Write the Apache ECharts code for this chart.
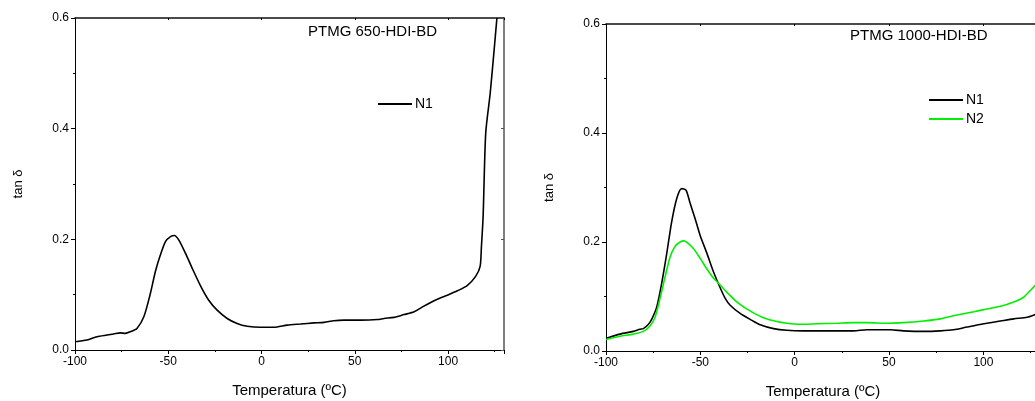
<!DOCTYPE html>
<html>
<head>
<meta charset="utf-8">
<script src="https://cdn.jsdelivr.net/npm/echarts@6/dist/echarts.min.js"></script>
<style>
html,body{margin:0;padding:0;background:#fff;}
#c{width:1035px;height:401px;}
</style>
</head>
<body>
<div id="c"></div>
<script>
// ---- Data ----
const xTicks = [-100, -50, 0, 50, 100];
const yTicks = [0.0, 0.2, 0.4, 0.6];

const leftTitle = 'PTMG 650-HDI-BD';
const rightTitle = 'PTMG 1000-HDI-BD';

const leftTemp = [-100,-93.6,-88.2,-82.8,-79.2,-75.7,-73,-70.3,-66.8,-63.1,-59.6,-56.9,-54.2,-51.5,-48.8,-46.7,-44.4,-40.8,-37.2,-32.7,-28.3,-23.8,-18.4,-13.1,-7.7,-0.5,6.6,13.8,20.9,28.1,33.5,38.8,44.2,53.1,62.1,65.7,71,76.4,81.8,86.3,90.7,95.2,99.6,105,110.4,114.8,117.2,117.9,118.8,120.2,122.6,124.7,126.2];
const leftN1 = [0.015,0.018,0.024,0.027,0.029,0.031,0.030,0.033,0.039,0.060,0.102,0.142,0.172,0.196,0.205,0.207,0.199,0.175,0.148,0.116,0.090,0.072,0.057,0.048,0.043,0.041,0.041,0.045,0.047,0.049,0.050,0.053,0.054,0.054,0.055,0.057,0.059,0.064,0.069,0.078,0.086,0.093,0.099,0.107,0.117,0.133,0.151,0.187,0.241,0.392,0.464,0.542,0.600];

const rightTempN1 = [-100,-92.6,-85.5,-82,-80.2,-77.5,-75.8,-73.1,-70.5,-67.8,-65.2,-62.5,-59.9,-57.6,-55.4,-52.8,-50.1,-46.6,-43,-39.5,-36.9,-34.2,-28.9,-23.6,-18.3,-11.2,-4.2,4.7,13.5,22.4,31.2,38.3,45.4,50.7,57.7,68.3,77.2,84.2,91.3,100.2,109,116.1,123.2,127.6,130];
const rightN1 = [0.023,0.031,0.036,0.040,0.041,0.049,0.058,0.081,0.124,0.179,0.237,0.280,0.298,0.295,0.271,0.243,0.212,0.180,0.145,0.116,0.097,0.084,0.069,0.058,0.048,0.041,0.038,0.037,0.037,0.037,0.037,0.039,0.039,0.039,0.037,0.036,0.037,0.039,0.044,0.050,0.055,0.059,0.062,0.067,0.070];

const rightTempN2 = [-100,-92.6,-85.5,-80.2,-76.7,-74,-71.4,-68.7,-66,-63.4,-60.7,-58.6,-56.3,-53.7,-50.1,-46.6,-43.1,-39.5,-36,-31.6,-27.1,-21.8,-16.5,-9.5,-4.2,2.9,11.8,22.4,31.2,38.3,48.9,57.7,68.3,77.2,86,94.9,101.9,109,116.1,121.4,124.9,127.6,130];
const rightN2 = [0.021,0.027,0.031,0.036,0.046,0.062,0.096,0.136,0.173,0.192,0.200,0.202,0.197,0.188,0.170,0.151,0.134,0.121,0.108,0.093,0.081,0.070,0.061,0.054,0.051,0.049,0.050,0.051,0.052,0.052,0.051,0.052,0.055,0.059,0.066,0.072,0.077,0.082,0.090,0.099,0.111,0.121,0.128];

const zip = (a, b) => a.map((v, i) => [v, b[i]]);

const FONT = '"Liberation Sans", Arial, sans-serif';
const txt = '#000';

function mainX(gi) {
  return {
    type: 'value', gridIndex: gi, position: 'bottom',
    min: xTicks[0], max: 130, interval: 50,
    name: 'Temperatura (ºC)', nameLocation: 'middle', nameGap: 33,
    nameTextStyle: {fontFamily: FONT, fontSize: 15, color: txt},
    axisLine: {show: true, onZero: false, lineStyle: {color: '#000', width: 1}},
    axisTick: {show: true, inside: false, length: 4, lineStyle: {color: '#000'}},
    minorTick: {show: true, splitNumber: 2, length: 2, lineStyle: {color: '#000'}},
    axisLabel: {fontFamily: FONT, fontSize: 12, color: txt, margin: 6, showMaxLabel: false,
      formatter: v => xTicks.indexOf(v) >= 0 ? String(v) : ''},
    splitLine: {show: false}
  };
}
function frameX(gi) {
  return {
    type: 'value', gridIndex: gi, position: 'top',
    min: xTicks[0], max: 130, interval: 50,
    axisLine: {show: true, onZero: false, lineStyle: {color: '#111', width: 1.5}},
    axisTick: {show: true, inside: true, length: 2, lineStyle: {color: '#000'}},
    minorTick: {show: false},
    axisLabel: {show: false}, splitLine: {show: false}
  };
}
function mainY(gi) {
  return {
    type: 'value', gridIndex: gi, position: 'left',
    min: yTicks[0], max: yTicks[yTicks.length - 1], interval: 0.2,
    name: 'tan δ', nameLocation: 'middle', nameGap: 50,
    nameTextStyle: {fontFamily: FONT, fontSize: 13, color: txt},
    axisLine: {show: true, onZero: false, lineStyle: {color: '#000', width: 1}},
    axisTick: {show: true, inside: false, length: 4, lineStyle: {color: '#000'}},
    minorTick: {show: true, splitNumber: 2, length: 2, lineStyle: {color: '#000'}},
    axisLabel: {fontFamily: FONT, fontSize: 12, color: txt, margin: 6, formatter: v => v.toFixed(1)},
    splitLine: {show: false}
  };
}
function frameY(gi, color) {
  return {
    type: 'value', gridIndex: gi, position: 'right',
    min: yTicks[0], max: yTicks[yTicks.length - 1], interval: 0.2,
    axisLine: {show: true, onZero: false, lineStyle: {color: color, width: 1.5}},
    axisTick: {show: true, inside: true, length: 3, lineStyle: {color: color}},
    minorTick: {show: false},
    axisLabel: {show: false}, splitLine: {show: false}
  };
}
function line(name, data, xi, yi, color) {
  return {
    type: 'line', name: name, data: data, xAxisIndex: xi, yAxisIndex: yi,
    symbol: 'none', showSymbol: false, smooth: 0.25,
    lineStyle: {color: color, width: 1.6}, itemStyle: {color: color},
    clip: true, animation: false
  };
}

const chart = echarts.init(document.getElementById('c'), null, {renderer: 'canvas'});
chart.setOption({
  animation: false,
  textStyle: {fontFamily: FONT},
  title: [
    {text: leftTitle, left: 303, top: 19, textStyle: {fontFamily: FONT, fontSize: 15, fontWeight: 'normal', color: txt}},
    {text: rightTitle, left: 845, top: 23, textStyle: {fontFamily: FONT, fontSize: 15, fontWeight: 'normal', color: txt}}
  ],
  legend: [
    {data: ['N1'], left: 378, top: 97, orient: 'vertical', icon: 'rect', itemWidth: 34, itemHeight: 2, itemGap: 3, padding: 0,
      textStyle: {fontFamily: FONT, fontSize: 14, color: txt, padding: [0, 0, 0, -2]}},
    {data: ['N1 ', 'N2'], left: 929, top: 93, orient: 'vertical', icon: 'rect', itemWidth: 34, itemHeight: 2, itemGap: 5, padding: 0,
      formatter: n => n.trim(),
      textStyle: {fontFamily: FONT, fontSize: 14, color: txt, padding: [0, 0, 0, -2]}}
  ],
  grid: [
    {left: 75, right: 531, top: 18, bottom: 51, containLabel: false, outerBoundsMode: 'none'},
    {left: 606, right: -5, top: 24, bottom: 50, containLabel: false, outerBoundsMode: 'none'}
  ],
  xAxis: [mainX(0), frameX(0), mainX(1), frameX(1)],
  yAxis: [mainY(0), frameY(0, '#555'), mainY(1), frameY(1, '#000')],
  series: [
    line('N1', zip(leftTemp, leftN1), 0, 0, '#000'),
    line('N1 ', zip(rightTempN1, rightN1), 2, 2, '#000'),
    line('N2', zip(rightTempN2, rightN2), 2, 2, '#00ee00')
  ]
});
</script>
</body>
</html>
